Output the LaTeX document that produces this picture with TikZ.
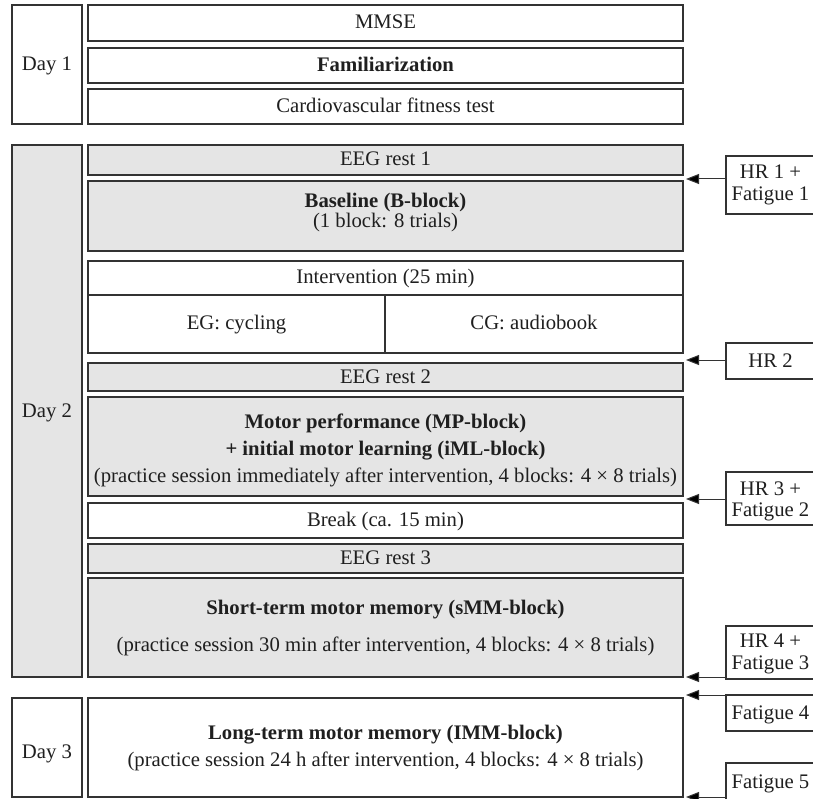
\documentclass[tikz,border=0pt]{standalone}
\usepackage{fontspec}
\setmainfont{Liberation Serif}
\usetikzlibrary{arrows.meta}
\definecolor{boxgray}{gray}{0.9}
\definecolor{linegray}{gray}{0.2}
\definecolor{txt}{gray}{0.12}
\begin{document}
\begin{tikzpicture}[x=1pt,y=-1pt,
  every node/.style={font=\fontsize{20.7}{24}\selectfont, text=txt},
  wbox/.style={draw=linegray, line width=1.4pt, fill=white, inner sep=0pt, text height=13pt, text depth=1pt},
  gbox/.style={wbox, fill=boxgray},
  lbl/.style={inner sep=0pt, anchor=center, text height=13pt, text depth=1pt},
  arr/.style={draw=linegray, line width=1pt, -{Triangle[length=13pt,width=10pt,fill=black]}}
]
\clip (0,0) rectangle (813,799);
\useasboundingbox (0,0) rectangle (813,799);

% Day 1
\node[wbox, minimum width=70pt, minimum height=119pt] (day1) at (47,64.5) {Day 1};
\node[wbox, minimum width=595pt, minimum height=36pt] (mmse) at (385.5,23) {MMSE};
\node[wbox, minimum width=595pt, minimum height=35pt] (fam) at (385.5,65.5) {\bfseries Familiarization};
\node[wbox, minimum width=595pt, minimum height=35pt] (cardio) at (385.5,106.5) {Cardiovascular fitness test};

% Day 2
\node[gbox, minimum width=70pt, minimum height=532pt] (day2) at (47,411) {Day 2};
\node[gbox, minimum width=595pt, minimum height=30pt] (eeg1) at (385.5,160) {EEG rest 1};
\node[gbox, minimum width=595pt, minimum height=70pt] (base) at (385.5,216) {};
\node[lbl] (baset1) at (385.5,202) {\bfseries Baseline (B-block)};
\node[lbl] (baset2) at (385.5,222) {(1 block: 8 trials)};
\node[wbox, minimum width=595pt, minimum height=34pt] (intv) at (385.5,278) {Intervention (25 min)};
\node[wbox, minimum width=297pt, minimum height=58pt] (eg) at (236.5,324) {EG: cycling};
\node[wbox, minimum width=298pt, minimum height=58pt] (cg) at (534,324) {CG: audiobook};
\node[gbox, minimum width=595pt, minimum height=28pt] (eeg2) at (385.5,377) {EEG rest 2};
\node[gbox, minimum width=595pt, minimum height=99pt] (mp) at (385.5,446.5) {};
\node[lbl] (mpt1) at (385.5,422) {\bfseries Motor performance (MP-block)};
\node[lbl] (mpt2) at (385.5,449) {\bfseries + initial motor learning (iML-block)};
\node[lbl] (mpt3) at (385.5,476) {(practice session immediately after intervention, 4 blocks: 4 × 8 trials)};
\node[wbox, minimum width=595pt, minimum height=35pt] (brk) at (385.5,520.5) {Break (ca. 15 min)};
\node[gbox, minimum width=595pt, minimum height=29pt] (eeg3) at (385.5,558.5) {EEG rest 3};
\node[gbox, minimum width=595pt, minimum height=99pt] (smm) at (385.5,627.5) {};
\node[lbl] (smmt1) at (385.5,608) {\bfseries Short-term motor memory (sMM-block)};
\node[lbl] (smmt2) at (385.5,645) {(practice session 30 min after intervention, 4 blocks: 4 × 8 trials)};

% Day 3
\node[wbox, minimum width=70pt, minimum height=99pt] (day3) at (47,747.5) {};
\node[lbl] (day3t) at (47,752) {Day 3};
\node[wbox, minimum width=595pt, minimum height=99pt] (lmm) at (385.5,747.5) {};
\node[lbl] (lmmt1) at (385.5,733) {\bfseries Long-term motor memory (IMM-block)};
\node[lbl] (lmmt2) at (385.5,760) {(practice session 24 h after intervention, 4 blocks: 4 × 8 trials)};

% right-hand measurement boxes
\node[wbox, minimum width=89pt, minimum height=58pt] (hr1) at (770.5,185) {};
\node[lbl] (hr1a) at (770.5,173) {HR 1 +};
\node[lbl] (hr1b) at (770.5,195) {Fatigue 1};
\node[wbox, minimum width=89pt, minimum height=36pt] (hr2) at (770.5,361) {HR 2};
\node[wbox, minimum width=89pt, minimum height=53pt] (hr3) at (770.5,498.5) {};
\node[lbl] (hr3a) at (770.5,489) {HR 3 +};
\node[lbl] (hr3b) at (770.5,510) {Fatigue 2};
\node[wbox, minimum width=89pt, minimum height=53pt] (hr4) at (770.5,652.5) {};
\node[lbl] (hr4a) at (770.5,641) {HR 4 +};
\node[lbl] (hr4b) at (770.5,663) {Fatigue 3};
\node[wbox, minimum width=89pt, minimum height=36pt] (f4) at (770.5,713) {Fatigue 4};
\node[wbox, minimum width=89pt, minimum height=38pt] (f5) at (770.5,782) {Fatigue 5};

% arrow tips
\coordinate (t1) at (686,179);
\coordinate (t2) at (686,360);
\coordinate (t3) at (686,499);
\coordinate (t4) at (686,677);
\coordinate (t5) at (686,695);
\coordinate (t6) at (686,797);

\draw[arr] (hr1.west |- t1) -- (t1);
\draw[arr] (hr2.west |- t2) -- (t2);
\draw[arr] (hr3.west |- t3) -- (t3);
\draw[arr] (hr4.west |- t4) -- (t4);
\draw[arr] (f4.west |- t5) -- (t5);
\draw[arr] (f5.west |- t6) -- (t6);
\end{tikzpicture}
\end{document}
